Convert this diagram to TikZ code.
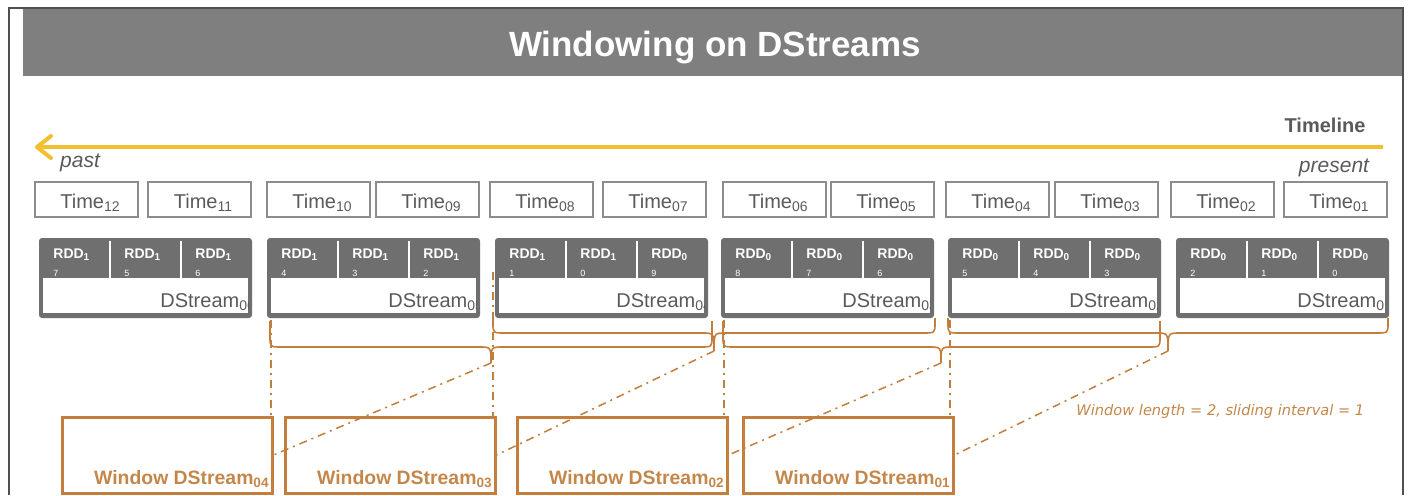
\documentclass[tikz,border=0pt]{standalone}
\usepackage{fontspec}
\setmainfont{Liberation Sans}
\newfontfamily\dejavu{DejaVu Sans}
\usetikzlibrary{arrows.meta,calc}
\definecolor{hdr}{RGB}{127,127,127}
\definecolor{grpgray}{RGB}{111,111,111}
\definecolor{boxline}{RGB}{140,140,140}
\definecolor{txtgray}{RGB}{90,90,90}
\definecolor{frm}{RGB}{80,80,80}
\definecolor{org}{RGB}{195,125,60}
\definecolor{orgtxt}{RGB}{196,135,75}
\definecolor{gold}{RGB}{242,192,46}
\newcommand\mybrace[6]{\draw[bracestyle] (#1,#4) -- (#1,#5-10) .. controls (#1,#5) .. (#1+12,#5) -- (#2-12,#5) .. controls (#2,#5) .. (#2,#6) .. controls (#2,#5) .. (#2+12,#5) -- (#3-12,#5) .. controls (#3,#5) .. (#3,#5-10) -- (#3,#4);}
\begin{document}
\begin{tikzpicture}[x=0.5pt,y=-0.5pt,
  timebox/.style={draw=boxline, line width=0.75pt, minimum width=51.5pt, minimum height=17.5pt, inner sep=0pt, text=txtgray, font=\fontsize{10pt}{12pt}\selectfont, text height=8.5pt, text depth=0pt},
  grp/.style={fill=grpgray, rounded corners=1.5pt, minimum width=106.5pt, minimum height=40pt, inner sep=0pt},
  rddtext/.style={text=white, font=\bfseries\fontsize{7pt}{8pt}\selectfont, inner sep=0pt, anchor=west},
  rdddig/.style={text=white, font=\fontsize{4.5pt}{5pt}\selectfont, inner sep=0pt, anchor=west},
  dstext/.style={text=txtgray, font=\fontsize{10pt}{12pt}\selectfont, inner sep=0pt, anchor=base west},
  winbox/.style={draw=org, line width=1.5pt, minimum width=105pt, minimum height=38pt, inner sep=0pt},
  wintext/.style={text=orgtxt, font=\bfseries\fontsize{9.7pt}{11pt}\selectfont, inner sep=0pt, anchor=base east},
  bracestyle/.style={draw=org, line width=0.8pt},
  dd/.style={draw=org, line width=0.75pt, dash pattern=on 4pt off 2.5pt on 1pt off 2.5pt}
]
\useasboundingbox (0,0) rectangle (1408,495);
% frame and header
\draw[frm, line width=0.8pt] (9,495) -- (9,8) -- (1403,8) -- (1403,495);
\fill[hdr] (23,9) rectangle (1402,76);
\node[text=white, font=\bfseries\fontsize{17.5pt}{20pt}\selectfont, inner sep=0pt] (title) at (715,48) {Windowing on DStreams};
% timeline
\coordinate (tlR) at (1383,147);
\coordinate (tlL) at (35,147);
\draw[gold, line width=2pt, -{Straight Barb[length=7pt,width=11pt,round]}] (tlR) -- (tlL);
\node[text=txtgray, font=\bfseries\fontsize{10pt}{12pt}\selectfont, inner sep=0pt] (tline) at (1325,125) {Timeline};
\node[text=txtgray, font=\itshape\fontsize{10.5pt}{12pt}\selectfont, inner sep=0pt] (past) at (80,163) {past};
\node[text=txtgray, font=\itshape\fontsize{10.5pt}{12pt}\selectfont, inner sep=0pt] (present) at (1334,168) {present};
% time boxes
\foreach \n/\xl in {12/35, 11/148, 10/267, 09/376, 08/490, 07/603, 06/723, 05/831, 04/946, 03/1055, 02/1171, 01/1284}{
  \node[timebox] (t\n) at (\xl+51.5,199.5) {\hspace{4pt}Time\textsubscript{\n}};
}
% DStream groups
\foreach \i/\xl/\ds/\ra/\da/\rb/\db/\rc/\dc in {1/39/06/1/7/1/5/1/6, 2/267/05/1/4/1/3/1/2, 3/495/04/1/1/1/0/0/9, 4/721/03/0/8/0/7/0/6, 5/948/02/0/5/0/4/0/3, 6/1176/01/0/2/0/1/0/0}{
  \node[grp] (g\i) at (\xl+106.5,278) {};
  \fill[white] (\xl+4,278) rectangle (\xl+209,313);
  \draw[white, line width=1.2pt] (\xl+71,241) -- (\xl+71,278) (\xl+142,241) -- (\xl+142,278);
  \node[rddtext] (r\i-a) at (\xl+14,255) {RDD\textsubscript{\ra}};
  \node[rddtext] (r\i-b) at (\xl+85,255) {RDD\textsubscript{\rb}};
  \node[rddtext] (r\i-c) at (\xl+156,255) {RDD\textsubscript{\rc}};
  \node[rdddig] (n\i-a) at (\xl+14,273) {\da};
  \node[rdddig] (n\i-b) at (\xl+85,273) {\db};
  \node[rdddig] (n\i-c) at (\xl+156,273) {\dc};
  \begin{scope}
    \clip (\xl+4,278) rectangle (\xl+209,313);
    \node[dstext] (d\i) at (\xl+121,307) {DStream\textsubscript{\ds}};
  \end{scope}
}
% braces
\mybrace{493}{714}{935}{318}{333}{351}
\mybrace{948}{1168}{1388}{318}{333}{351}
\mybrace{270}{491}{712}{321}{347}{363}
\mybrace{723}{941}{1160}{321}{347}{363}
% windows
\node[winbox] (w4) at (167,455) {};
\node[winbox] (w3) at (390,455) {};
\node[winbox] (w2) at (622,455) {};
\node[winbox] (w1) at (848,455) {};
\node[wintext] (w4t) at (270,484) {Window DStream\textsubscript{04}};
\node[wintext] (w3t) at (493,484) {Window DStream\textsubscript{03}};
\node[wintext] (w2t) at (725,484) {Window DStream\textsubscript{02}};
\node[wintext] (w1t) at (951,484) {Window DStream\textsubscript{01}};
% dash-dot connectors
\coordinate (v1) at (271,320);
\coordinate (v2) at (493,272);
\coordinate (v3) at (724,320);
\coordinate (v4) at (950,320);
\draw[dd] (v1) -- (v1 |- w4.north);
\draw[dd] (v2) -- (v2 |- w3.north);
\draw[dd] (v3) -- (v3 |- w2.north);
\draw[dd] (v4) -- (v4 |- w1.north);
\coordinate (b1) at (491,363);
\coordinate (b2) at (714,351);
\coordinate (b3) at (941,363);
\coordinate (b4) at (1168,351);
\draw[dd] (b1) -- (w4.east);
\draw[dd] (b2) -- (w3.east);
\draw[dd] (b3) -- (w2.east);
\draw[dd] (b4) -- (w1.east);
\node[text=orgtxt, font=\dejavu\itshape\fontsize{7.3pt}{9pt}\selectfont, inner sep=0pt, anchor=west] (note) at (1076,411) {Window length = 2, sliding interval = 1};
\end{tikzpicture}
\end{document}
